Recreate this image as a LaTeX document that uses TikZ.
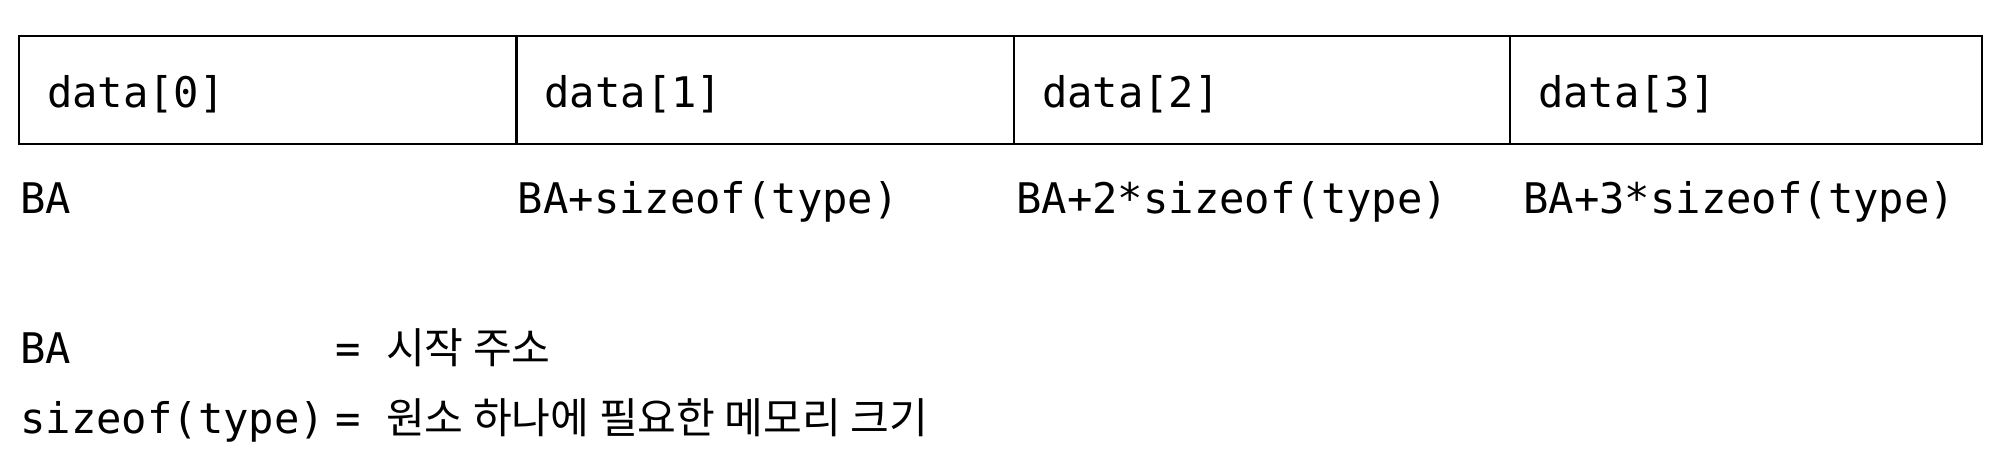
\documentclass[tikz,border=0pt]{standalone}
\usepackage{fontspec}
\setmonofont{DejaVu Sans Mono}
\newfontfamily\korfont{Noto Sans CJK KR}
\usetikzlibrary{positioning}
\begin{document}
\begin{tikzpicture}[
	cellbox/.style={draw, line width=1.6pt, rectangle, outer sep=0pt, minimum height=2.16cm, inner xsep=0.56cm, inner ysep=0pt, text height=0.8cm, text depth=0.11cm, align=left, font=\myfontcode},
	addrtext/.style={inner sep=0pt, font=\myfontcode}
]
			\newcommand{\myfontcode}{\fontsize{24}{29}\selectfont\ttfamily}
			\newcommand{\myfontkor}[1]{{\fontsize{24}{29}\korfont #1}}
			%Page frame
			\useasboundingbox (0,0) rectangle (40,-9.18);
			%Memory cells
			\node [cellbox, minimum width=9.95cm, text width=8.83cm, anchor=north west] (cell0) at (0.38,-0.72) {data[0]};
			\node [cellbox, minimum width=9.95cm, text width=8.83cm, right=0pt of cell0] (cell1) {data[1]};
			\node [cellbox, minimum width=9.92cm, text width=8.80cm, right=0pt of cell1] (cell2) {data[2]};
			\node [cellbox, minimum width=9.44cm, text width=8.32cm, right=0pt of cell2] (cell3) {data[3]};
			%Addresses below the cells
			\node [addrtext, anchor=base west] (addr0) at ([xshift=0.02cm, yshift=-1.38cm]cell0.south west) {BA};
			\node [addrtext, anchor=base west] (addr1) at ([xshift=0.02cm, yshift=-1.38cm]cell1.south west) {BA+sizeof(type)};
			\node [addrtext, anchor=base west] (addr2) at ([xshift=0.04cm, yshift=-1.38cm]cell2.south west) {BA+2*sizeof(type)};
			\node [addrtext, anchor=base west] (addr3) at ([xshift=0.26cm, yshift=-1.38cm]cell3.south west) {BA+3*sizeof(type)};
			%Legend
			\node [addrtext, anchor=base west] (keyBA) at (0.40,-7.26) {BA};
			\node [addrtext, anchor=base west] (keySize) at (0.40,-8.66) {sizeof(type)};
			\node [addrtext, anchor=base west] (defBA) at (6.70,-7.26) {= \myfontkor{시작 주소}};
			\node [addrtext, anchor=base west] (defSize) at (6.70,-8.66) {= \myfontkor{원소 하나에 필요한 메모리 크기}};
\end{tikzpicture}
\end{document}
